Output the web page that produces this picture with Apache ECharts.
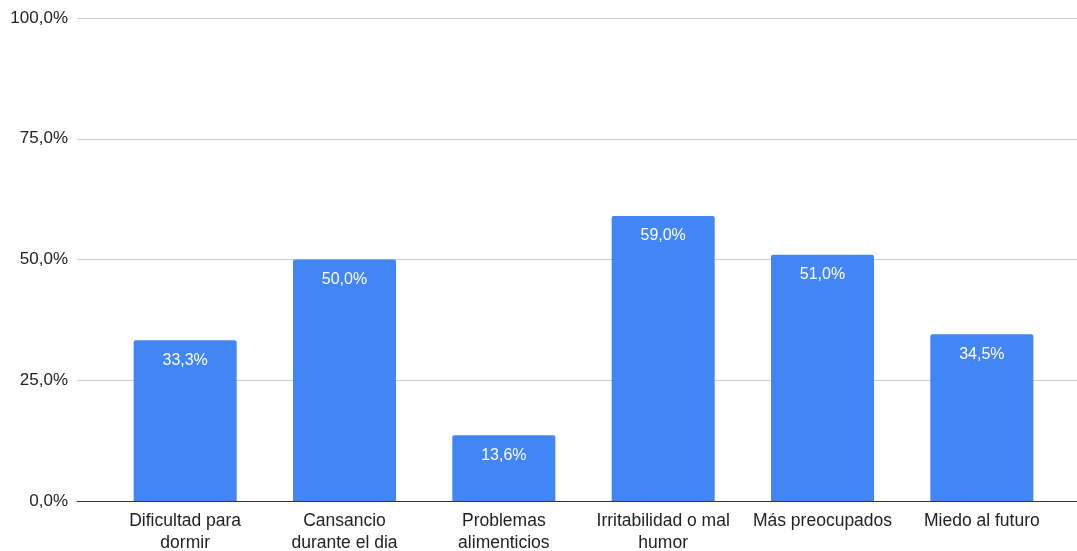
<!DOCTYPE html>
<html>
<head>
<meta charset="utf-8">
<style>
  html, body { margin: 0; padding: 0; background: #ffffff; }
  #chart { width: 1077px; height: 551px; }
</style>
<script src="https://cdn.jsdelivr.net/npm/echarts@6/dist/echarts.min.js"></script>
</head>
<body>
<div id="chart"></div>
<script>
// Síntomas reportados (porcentaje de respuestas)
const categories = [
  'Dificultad para\ndormir',
  'Cansancio\ndurante el dia',
  'Problemas\nalimenticios',
  'Irritabilidad o mal\nhumor',
  'Más preocupados',
  'Miedo al futuro'
];
const values = [33.3, 50.0, 13.6, 59.0, 51.0, 34.5];
const yTicks = [0, 25, 50, 75, 100];

const fmt = v => v.toFixed(1).replace('.', ',') + '%';
const font = 'Arial, "Liberation Sans", sans-serif';

const chart = echarts.init(document.getElementById('chart'), null, { renderer: 'canvas' });

chart.setOption({
  animation: false,
  backgroundColor: '#ffffff',
  grid: [
    // full-width grid: value gridlines, y labels and baseline
    { left: 77, right: 0, top: 18, bottom: 50, containLabel: false, outerBoundsMode: 'none' },
    // inset grid holding the bars
    { left: 105.5, right: 15.5, top: 18, bottom: 50, containLabel: false, outerBoundsMode: 'none' }
  ],
  xAxis: [
    {
      gridIndex: 0, type: 'value', min: 0, max: 1,
      axisLine: { show: true, onZero: false, lineStyle: { color: '#333333', width: 1 } },
      axisTick: { show: false }, axisLabel: { show: false }, splitLine: { show: false }
    },
    {
      gridIndex: 1, type: 'category', data: categories,
      axisLine: { show: false }, axisTick: { show: false },
      axisLabel: {
        interval: 0, color: '#222222', fontFamily: font, fontSize: 17.5,
        lineHeight: 22, margin: 9
      }
    }
  ],
  yAxis: [
    {
      gridIndex: 0, type: 'value', min: yTicks[0], max: yTicks[yTicks.length - 1], interval: 25,
      axisLine: { show: false }, axisTick: { show: false },
      axisLabel: { formatter: fmt, color: '#222222', fontFamily: font, fontSize: 17, margin: 9 },
      splitLine: { lineStyle: { color: '#cccccc', width: 1 } }
    },
    {
      gridIndex: 1, type: 'value', min: 0, max: 100, interval: 25,
      axisLine: { show: false }, axisTick: { show: false },
      axisLabel: { show: false }, splitLine: { show: false }
    }
  ],
  series: [{
    type: 'bar',
    xAxisIndex: 1, yAxisIndex: 1,
    data: values,
    barWidth: 103,
    itemStyle: { color: '#4285f4', borderRadius: [2, 2, 0, 0] },
    label: {
      show: true, position: 'insideTop', distance: 12,
      color: '#ffffff', fontFamily: font, fontSize: 16,
      formatter: p => fmt(p.value)
    },
    z: 3
  }]
});
</script>
</body>
</html>
